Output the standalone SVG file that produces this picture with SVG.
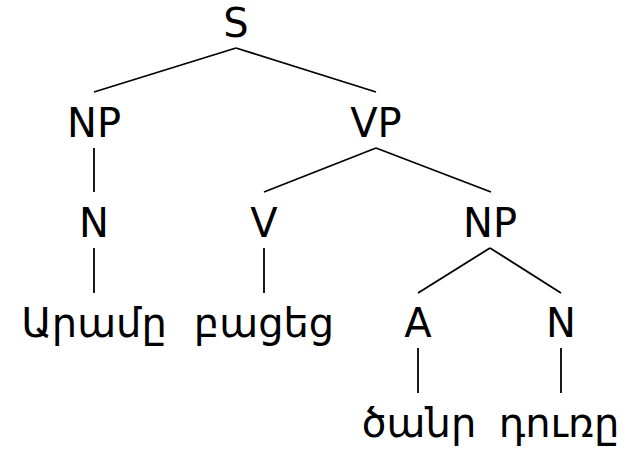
<svg xmlns="http://www.w3.org/2000/svg" width="629" height="450" viewBox="0 0 629 450">
<style>
text{font-family:"DejaVu Sans","Noto Sans",sans-serif;font-size:40px;fill:#000;text-anchor:middle}
.e line{stroke:#000;stroke-width:1.8;fill:none}
</style>
<rect width="629" height="450" fill="#fff"/>
<g class="e" id="connectors">
<line x1="236" y1="48" x2="94" y2="92"/>
<line x1="236" y1="48" x2="376" y2="92"/>
<line x1="94" y1="148" x2="94" y2="192"/>
<line x1="376" y1="148" x2="264" y2="192"/>
<line x1="376" y1="148" x2="491" y2="192"/>
<line x1="94" y1="248" x2="94" y2="293"/>
<line x1="264" y1="248" x2="264" y2="293"/>
<line x1="490" y1="248" x2="418" y2="293"/>
<line x1="490" y1="248" x2="561" y2="293"/>
<line x1="418" y1="348" x2="418" y2="393"/>
<line x1="561" y1="348" x2="561" y2="393"/>
</g>
<g id="S"><text x="236" y="37">S</text></g>
<g id="NP1"><text x="94" y="137">NP</text></g>
<g id="VP"><text x="376" y="137">VP</text></g>
<g id="N1"><text x="94" y="237">N</text></g>
<g id="V"><text x="264" y="237">V</text></g>
<g id="NP2"><text x="490" y="237">NP</text></g>
<g id="w1"><text x="94" y="337">Արամը</text></g>
<g id="w2"><text x="264" y="337">բացեց</text></g>
<g id="A"><text x="418" y="337">A</text></g>
<g id="N2"><text x="561" y="337">N</text></g>
<g id="w3"><text x="419" y="437">ծանր</text></g>
<g id="w4"><text x="559" y="437">դուռը</text></g>
</svg>
